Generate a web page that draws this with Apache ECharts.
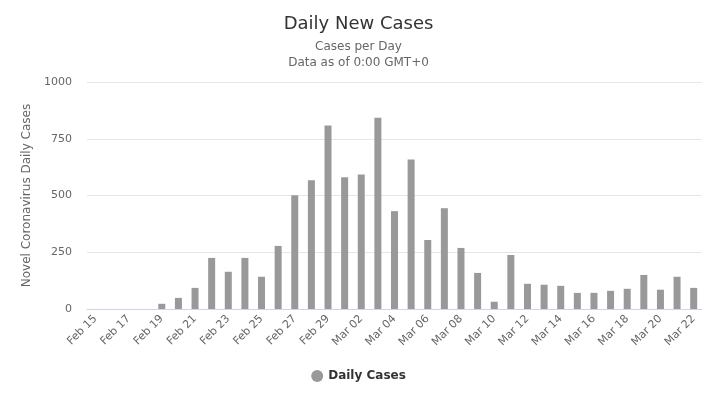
<!DOCTYPE html>
<html>
<head>
<meta charset="utf-8">
<script src="https://cdn.jsdelivr.net/npm/echarts@6/dist/echarts.min.js"></script>
<style>html,body{margin:0;padding:0;background:#fff}#c{width:717px;height:395px}</style>
</head>
<body>
<div id="c"></div>
<script>
const categories = ["Feb 15","Feb 16","Feb 17","Feb 18","Feb 19","Feb 20","Feb 21","Feb 22","Feb 23","Feb 24","Feb 25","Feb 26","Feb 27","Feb 28","Feb 29",
"Mar 01","Mar 02","Mar 03","Mar 04","Mar 05","Mar 06","Mar 07","Mar 08","Mar 09","Mar 10","Mar 11","Mar 12","Mar 13","Mar 14","Mar 15","Mar 16","Mar 17","Mar 18","Mar 19","Mar 20","Mar 21","Mar 22"];
const dailyCases = [0,0,0,0,23,49,93,225,164,225,142,278,501,567,808,
580,593,843,431,659,304,444,269,159,32,238,111,107,102,71,71,80,89,150,85,142,93];
const yTicks = [0,250,500,750,1000];

const font = '"DejaVu Sans", Verdana, sans-serif';
const chart = echarts.init(document.getElementById('c'));
chart.setOption({
  animation: false,
  textStyle: {fontFamily: font},
  title: {
    text: 'Daily New Cases',
    subtext: 'Cases per Day\nData as of 0:00 GMT+0',
    left: 'center', top: 10, itemGap: 6,
    textStyle: {fontFamily: font, fontSize: 18, fontWeight: 'normal', color: '#333'},
    subtextStyle: {fontFamily: font, fontSize: 12, color: '#666', lineHeight: 16}
  },
  legend: {
    bottom: 8, left: 'center',
    icon: 'circle', itemWidth: 12, itemHeight: 12,
    textStyle: {fontFamily: font, fontSize: 12, fontWeight: 'bold', color: '#333'}
  },
  grid: {left: 87, right: 15, top: 82, bottom: 86},
  xAxis: {
    type: 'category', data: categories,
    axisLine: {lineStyle: {color: '#ccd6eb'}},
    axisTick: {show: false},
    axisLabel: {interval: 1, rotate: 45, color: '#666', fontSize: 11, fontFamily: font, margin: 8}
  },
  yAxis: {
    type: 'value', min: yTicks[0], max: yTicks[yTicks.length-1], interval: 250,
    name: 'Novel Coronavirus Daily Cases', nameLocation: 'middle', nameGap: 46,
    nameTextStyle: {color: '#666', fontSize: 12, fontFamily: font},
    axisLine: {show: false}, axisTick: {show: false},
    axisLabel: {color: '#666', fontSize: 11, fontFamily: font, margin: 15, formatter: v => String(v)},
    splitLine: {lineStyle: {color: '#e6e6e6'}}
  },
  series: [{
    name: 'Daily Cases', type: 'bar', data: dailyCases,
    barWidth: 7, itemStyle: {color: '#999999'}
  }]
});
</script>
</body>
</html>
